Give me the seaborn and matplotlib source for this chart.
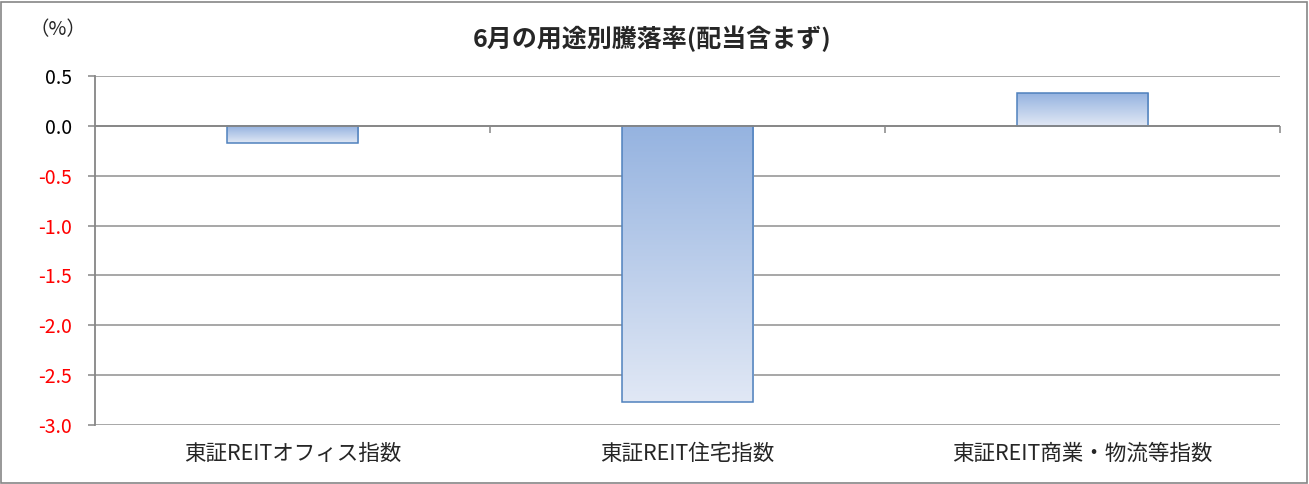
import numpy as np
import pandas as pd
import matplotlib
matplotlib.use("Agg")
import matplotlib.pyplot as plt
from matplotlib.colors import LinearSegmentedColormap
from matplotlib.patches import Rectangle
import seaborn as sns

# ---- data ----
categories = ["東証REITオフィス指数", "東証REIT住宅指数", "東証REIT商業・物流等指数"]
values = [-0.17, -2.77, 0.33]
y_ticks = [-3.0, -2.5, -2.0, -1.5, -1.0, -0.5, 0.0, 0.5]
y_tick_labels = ["-3.0", "-2.5", "-2.0", "-1.5", "-1.0", "-0.5", "0.0", "0.5"]
title = "6月の用途別騰落率(配当含まず)"
unit_label = "（%）"

sns.set_theme(style="white")
plt.rcParams["font.family"] = ["Noto Sans CJK JP", "DejaVu Sans"]

df = pd.DataFrame({"category": categories, "value": values})

W, H = 1309, 484
fig = plt.figure(figsize=(W / 100, H / 100), dpi=100)
ax = fig.add_axes([95 / W, 1 - 425 / H, (1280 - 95) / W, (425 - 76) / H])

sns.barplot(data=df, x="category", y="value", ax=ax, width=0.332,
            color="#b8c9ea", edgecolor="#4f81bd", linewidth=1.1,
            saturation=1, zorder=3)

ax.set_xlim(-0.5, 2.5)
ax.set_ylim(-3.0, 0.5)

# gradient fills clipped to each bar
cmap = LinearSegmentedColormap.from_list("g", ["#e1e8f5", "#95b3e0"])
grad = np.linspace(0, 1, 256).reshape(-1, 1)
for p in list(ax.patches):
    bb = p.get_bbox()
    im = ax.imshow(grad, extent=[bb.xmin, bb.xmax, bb.ymin, bb.ymax],
                   origin="lower", aspect="auto", cmap=cmap, zorder=2.9,
                   interpolation="bilinear")
    im.set_clip_path(p)
    p.set_facecolor("none")
ax.set_xlim(-0.5, 2.5)
ax.set_ylim(-3.0, 0.5)

# grid
ax.set_axisbelow(True)
ax.set_yticks(y_ticks)
ax.set_yticklabels(y_tick_labels)
ax.yaxis.grid(True, color="#a0a0a0", linewidth=1.3)
ax.xaxis.grid(False)

for lab, v in zip(ax.get_yticklabels(), y_ticks):
    lab.set_color("#ff0000" if v < 0 else "#000000")

ax.tick_params(axis="y", left=True, length=5, width=1.1, color="#868686",
               pad=11.5, labelsize=14)
ax.tick_params(axis="x", bottom=False, length=0, pad=13, labelsize=15.5)
ax.set_xlabel("")
ax.set_ylabel("")

for s in ["top", "right", "bottom"]:
    ax.spines[s].set_visible(False)
ax.spines["left"].set_color("#868686")
ax.spines["left"].set_linewidth(1.3)

# category axis at zero with boundary tick marks
ax.axhline(0, color="#868686", linewidth=1.3, zorder=4)
sec = ax.secondary_xaxis(0, transform=ax.transData)
sec.set_xticks([0.5, 1.5, 2.5])
sec.set_xticklabels([])
sec.tick_params(axis="x", direction="out", length=5, width=1.1, color="#868686")
for s in sec.spines.values():
    s.set_visible(False)

# title and unit
fig.text(652 / W, 1 - 39 / H, title, ha="center", va="center",
         fontsize=18, fontweight="bold")
fig.text(58 / W, 1 - 30 / H, unit_label, ha="center", va="center", fontsize=14)

# figure frame
fig.patches.append(Rectangle((0.5 / W, 1.5 / H), (W - 2.5) / W, (H - 3) / H,
                             transform=fig.transFigure, fill=False,
                             edgecolor="#868686", linewidth=1.2))

fig.savefig("out.png", dpi=100)
